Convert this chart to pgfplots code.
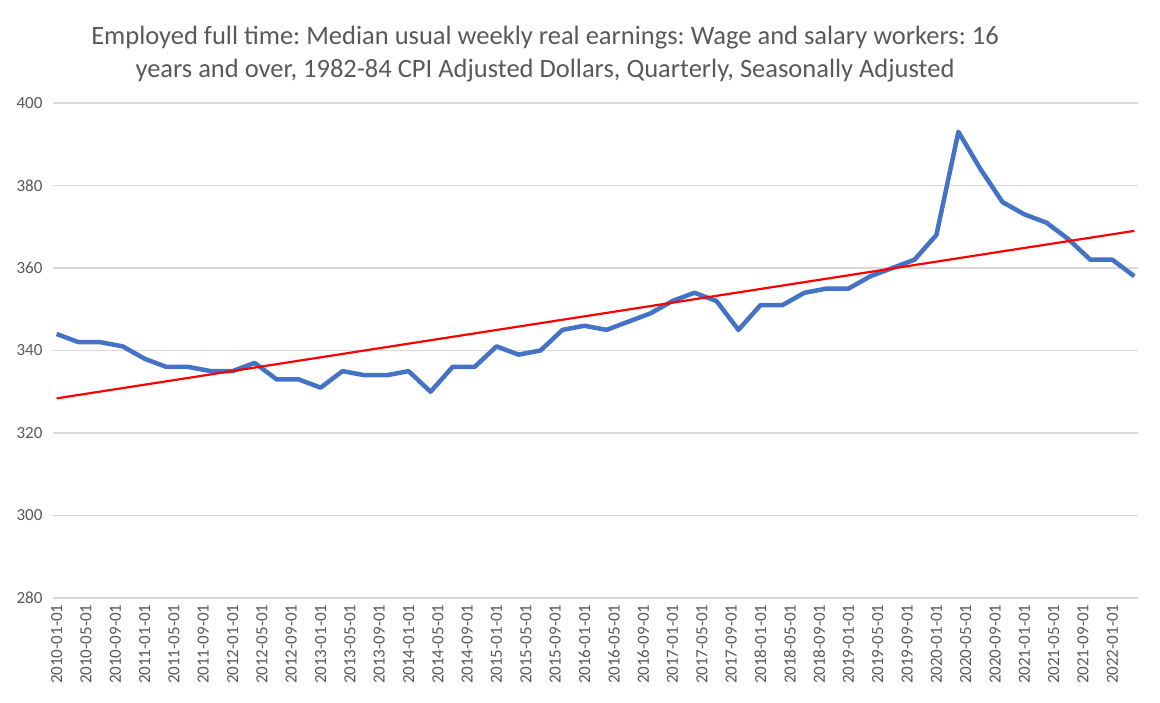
\documentclass[border=0pt]{standalone}
\usepackage{pgfplots}
\pgfplotsset{compat=1.18}
\usepackage{fontspec}
\setmainfont{Carlito}
\frenchspacing
\definecolor{txt}{HTML}{595959}
\definecolor{gridc}{HTML}{D9D9D9}
\definecolor{xlblue}{HTML}{4472C4}
\definecolor{xlred}{HTML}{FF0000}
\begin{document}
\begin{tikzpicture}
\useasboundingbox (0,0) rectangle (1160pt,702pt);
\node[text=txt, font=\fontsize{26.5}{33}\selectfont, align=center] at (545pt,648pt)
{Employed full time: Median usual weekly real earnings: Wage and salary workers: 16\\years and over, 1982-84 CPI Adjusted Dollars, Quarterly, Seasonally Adjusted};
\begin{axis}[
  at={(53pt,104pt)}, anchor=south west,
  scale only axis, width=1085pt, height=495pt,
  xmin=-0.5, xmax=147.5, ymin=280, ymax=400,
  axis x line*=bottom, axis y line*=left,
  x axis line style={draw=gridc, line width=1.2pt},
  y axis line style={draw=none},
  ytick={280,300,...,400},
  ymajorgrids, grid style={draw=gridc, line width=1.2pt},
  ytick style={draw=none},
  xtick={0,4,...,144},
  xticklabels={2010-01-01,2010-05-01,2010-09-01,2011-01-01,2011-05-01,2011-09-01,2012-01-01,2012-05-01,2012-09-01,2013-01-01,2013-05-01,2013-09-01,2014-01-01,2014-05-01,2014-09-01,2015-01-01,2015-05-01,2015-09-01,2016-01-01,2016-05-01,2016-09-01,2017-01-01,2017-05-01,2017-09-01,2018-01-01,2018-05-01,2018-09-01,2019-01-01,2019-05-01,2019-09-01,2020-01-01,2020-05-01,2020-09-01,2021-01-01,2021-05-01,2021-09-01,2022-01-01},
  xtick style={draw=none},
  extra x ticks={-0.5,3.5,...,147.5},
  extra x tick labels={},
  extra x tick style={tick style={draw=gridc, line width=1.2pt}, major tick length=6pt, tick align=outside, xmajorgrids=false},
  /pgf/number format/assume math mode=true,
  ticklabel style={text=txt, font=\fontsize{17}{18}\selectfont},
  xticklabel style={rotate=90, anchor=east},
  xticklabel shift=3pt,
  yticklabel style={xshift=-7pt},
  clip=false,
]
\addplot[xlblue, line width=4.5pt, line join=round] coordinates {
(0,344)(3,342)(6,342)(9,341)(12,338)(15,336)(18,336)(21,335)(24,335)(27,337)
(30,333)(33,333)(36,331)(39,335)(42,334)(45,334)(48,335)(51,330)(54,336)(57,336)
(60,341)(63,339)(66,340)(69,345)(72,346)(75,345)(78,347)(81,349)(84,352)(87,354)
(90,352)(93,345)(96,351)(99,351)(102,354)(105,355)(108,355)(111,358)(114,360)(117,362)
(120,368)(123,393)(126,384)(129,376)(132,373)(135,371)(138,367)(141,362)(144,362)(147,358)
};
\addplot[xlred, line width=2.2pt] coordinates {(0,328.4)(147,369.0)};
\end{axis}
\end{tikzpicture}
\end{document}
